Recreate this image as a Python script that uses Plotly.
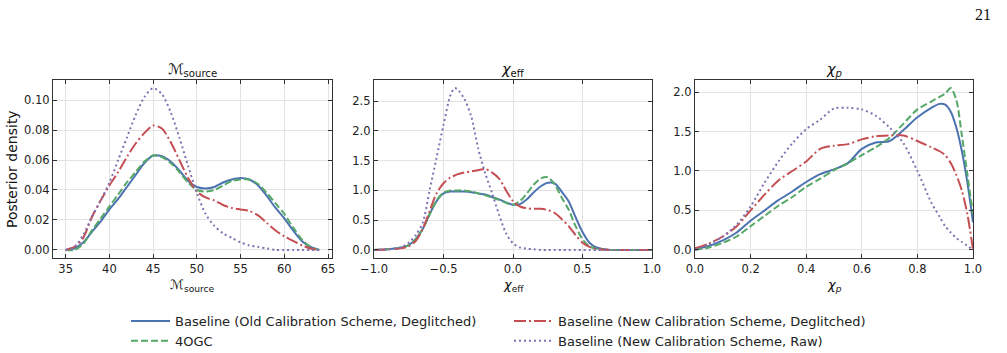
import plotly.graph_objects as go

# ---------------- data ----------------
mc_x = [35, 36, 37, 38, 39, 40, 41, 42, 43, 44, 45, 46, 47, 48, 49, 50, 51, 52, 53, 54,
        55, 56, 57, 58, 59, 60, 61, 62, 63, 64]
mc_old = [0.0, 0.001, 0.005, 0.012, 0.019, 0.027, 0.034, 0.042, 0.050, 0.058, 0.063, 0.0625,
          0.059, 0.053, 0.046, 0.042, 0.041, 0.042, 0.045, 0.047, 0.048, 0.047, 0.043, 0.036,
          0.028, 0.021, 0.013, 0.006, 0.002, 0.0]
mc_4ogc = [0.0, 0.0, 0.004, 0.013, 0.021, 0.029, 0.037, 0.045, 0.052, 0.059, 0.063, 0.062,
           0.058, 0.052, 0.045, 0.040, 0.039, 0.040, 0.043, 0.046, 0.047, 0.047, 0.044, 0.038,
           0.031, 0.024, 0.015, 0.007, 0.002, 0.0]
mc_new = [0.0, 0.002, 0.008, 0.022, 0.033, 0.043, 0.052, 0.062, 0.071, 0.078, 0.083, 0.081,
          0.072, 0.060, 0.048, 0.039, 0.035, 0.033, 0.030, 0.028, 0.027, 0.026, 0.023, 0.018,
          0.013, 0.009, 0.006, 0.003, 0.001, 0.0]
mc_raw = [0.0, 0.002, 0.010, 0.022, 0.033, 0.045, 0.060, 0.075, 0.090, 0.102, 0.108, 0.104,
          0.092, 0.075, 0.056, 0.038, 0.024, 0.016, 0.011, 0.008, 0.005, 0.003, 0.002, 0.001,
          0.0, 0.0, 0.0, 0.0, 0.0, 0.0]

ce_x = [-1.0, -0.9, -0.8, -0.75, -0.7, -0.65, -0.6, -0.55, -0.5, -0.45, -0.42, -0.4, -0.35,
        -0.3, -0.25, -0.2, -0.15, -0.1, -0.05, 0.0, 0.05, 0.1, 0.15, 0.2, 0.25, 0.3, 0.35,
        0.4, 0.45, 0.5, 0.55, 0.6, 0.65, 0.7, 0.8, 0.9, 1.0]
ce_old = [0.0, 0.01, 0.04, 0.08, 0.18, 0.35, 0.60, 0.82, 0.95, 0.98, 0.98, 0.98, 0.98,
          0.97, 0.95, 0.93, 0.89, 0.85, 0.80, 0.76, 0.77, 0.85, 0.97, 1.07, 1.13, 1.12, 0.98,
          0.82, 0.55, 0.30, 0.12, 0.04, 0.01, 0.0, 0.0, 0.0, 0.0]
ce_4ogc = [0.0, 0.01, 0.04, 0.08, 0.18, 0.35, 0.60, 0.83, 0.96, 1.0, 1.0, 1.0, 1.0,
           0.98, 0.95, 0.92, 0.88, 0.84, 0.79, 0.76, 0.82, 0.95, 1.10, 1.20, 1.22, 1.10, 0.88,
           0.68, 0.40, 0.18, 0.06, 0.02, 0.005, 0.0, 0.0, 0.0, 0.0]
ce_new = [0.0, 0.01, 0.03, 0.06, 0.15, 0.35, 0.65, 0.95, 1.12, 1.22, 1.25, 1.27, 1.30,
          1.32, 1.34, 1.36, 1.30, 1.20, 1.00, 0.82, 0.73, 0.70, 0.69, 0.69, 0.67, 0.62, 0.52,
          0.40, 0.25, 0.12, 0.05, 0.015, 0.005, 0.0, 0.0, 0.0, 0.0]
ce_raw = [0.0, 0.01, 0.05, 0.12, 0.25, 0.45, 1.00, 1.55, 2.10, 2.60, 2.72, 2.70, 2.54,
          2.24, 1.70, 1.29, 0.95, 0.59, 0.28, 0.11, 0.04, 0.02, 0.01, 0.0, 0.0, 0.0, 0.0,
          0.0, 0.0, 0.0, 0.0, 0.0, 0.0, 0.0, 0.0, 0.0, 0.0]

cp_x = [0.0, 0.05, 0.1, 0.15, 0.2, 0.25, 0.3, 0.35, 0.4, 0.45, 0.5, 0.55, 0.6, 0.65, 0.7,
        0.75, 0.8, 0.85, 0.88, 0.9, 0.92, 0.94, 0.96, 0.98, 1.0]
cp_old = [0.01, 0.05, 0.12, 0.22, 0.37, 0.50, 0.63, 0.74, 0.86, 0.96, 1.02, 1.10, 1.28,
          1.36, 1.38, 1.52, 1.68, 1.80, 1.85, 1.84, 1.75, 1.55, 1.25, 0.85, 0.35]
cp_4ogc = [0.0, 0.03, 0.09, 0.17, 0.30, 0.43, 0.56, 0.67, 0.80, 0.90, 1.01, 1.10, 1.20,
           1.30, 1.42, 1.60, 1.78, 1.88, 1.94, 1.98, 2.05, 1.90, 1.45, 0.95, 0.45]
cp_new = [0.02, 0.08, 0.17, 0.30, 0.50, 0.70, 0.88, 1.00, 1.12, 1.28, 1.32, 1.34, 1.40,
          1.44, 1.45, 1.45, 1.38, 1.30, 1.25, 1.20, 1.10, 0.95, 0.75, 0.45, 0.0]
cp_raw = [0.0, 0.07, 0.17, 0.32, 0.55, 0.85, 1.12, 1.35, 1.53, 1.65, 1.79, 1.80, 1.78,
          1.70, 1.55, 1.35, 1.00, 0.60, 0.42, 0.30, 0.22, 0.15, 0.10, 0.05, 0.0]

series_names = ["Baseline (Old Calibration Scheme, Deglitched)", "4OGC",
                "Baseline (New Calibration Scheme, Deglitched)",
                "Baseline (New Calibration Scheme, Raw)"]
panel_titles = ["ℳ<sub>source</sub>", "<i>χ</i><sub>eff</sub>", "<i>χ</i><sub><i>p</i></sub>"]

# ---------------- styling ----------------
W, H = 1007, 353
colors = ["#4C72B0", "#55A868", "#C44E52", "#8172B3"]
dashes = ["solid", "7px,3px", "12px,3px,2px,3px", "2px,3px"]
ranks = [1, 3, 2, 4]
FONT = "DejaVu Sans"

panels = [
    (mc_x, [mc_old, mc_4ogc, mc_new, mc_raw]),
    (ce_x, [ce_old, ce_4ogc, ce_new, ce_raw]),
    (cp_x, [cp_old, cp_4ogc, cp_new, cp_raw]),
]

xdom_px = [(53, 332), (374, 652), (695, 973)]
ydom_px = (80, 258)
xranges = [[33.55, 65.45], [-1, 1], [0, 1]]
yranges = [[-0.0054, 0.1134], [-0.136, 2.856], [-0.1025, 2.1525]]
xticks = [[35, 40, 45, 50, 55, 60, 65], [-1, -0.5, 0, 0.5, 1], [0, 0.2, 0.4, 0.6, 0.8, 1.0]]
yticks = [[0, 0.02, 0.04, 0.06, 0.08, 0.10], [0, 0.5, 1, 1.5, 2, 2.5], [0, 0.5, 1, 1.5, 2]]
xfmt = [".0f", ".1f", ".1f"]
yfmt = [".2f", ".1f", ".1f"]

fig = go.Figure()
for p, (xs, ys_list) in enumerate(panels):
    ax = "" if p == 0 else str(p + 1)
    for s, ys in enumerate(ys_list):
        fig.add_trace(go.Scatter(
            x=xs, y=ys, mode="lines", name=series_names[s],
            line=dict(color=colors[s], width=2, dash=dashes[s], shape="spline", smoothing=0.8),
            showlegend=(p == 0), legendrank=ranks[s],
            xaxis="x" + ax, yaxis="y" + ax,
        ))

layout = dict(
    width=W, height=H,
    margin=dict(l=0, r=0, t=0, b=0, pad=0, autoexpand=False),
    paper_bgcolor="white", plot_bgcolor="white",
    font=dict(family=FONT, size=11, color="#222222"),
    showlegend=True,
    legend=dict(
        orientation="h", x=126 / W, y=1 - 306 / H, xanchor="left", yanchor="top",
        entrywidth=329, entrywidthmode="pixels", itemwidth=39,
        font=dict(family=FONT, size=13, color="#222222"),
        bgcolor="rgba(0,0,0,0)", traceorder="normal",
    ),
)

for p in range(3):
    ax = "" if p == 0 else str(p + 1)
    x0, x1 = xdom_px[p]
    common = dict(
        showline=True, linecolor="#333333", linewidth=1.2, mirror="ticks",
        ticks="inside", ticklen=4, tickwidth=1, tickcolor="#333333",
        showgrid=True, gridcolor="#e3e3e3", gridwidth=1, zeroline=False, automargin=False,
        tickfont=dict(family=FONT, size=11.5, color="#222222"),
    )
    layout["xaxis" + ax] = dict(
        domain=[x0 / W, x1 / W], range=xranges[p], tickvals=xticks[p], tickformat=xfmt[p],
        anchor="y" + ax, **common)
    layout["yaxis" + ax] = dict(
        domain=[1 - ydom_px[1] / H, 1 - ydom_px[0] / H], range=yranges[p],
        tickvals=yticks[p], tickformat=yfmt[p], anchor="x" + ax, **common)

fig.update_layout(**layout)

annotations = []
for p in range(3):
    x0, x1 = xdom_px[p]
    cx = (x0 + x1) / 2 / W
    annotations.append(dict(text=panel_titles[p], x=cx, y=1 - 70 / H, xref="paper", yref="paper",
                            showarrow=False, xanchor="center", yanchor="middle",
                            font=dict(family=FONT, size=14.5, color="#111111")))
    annotations.append(dict(text=panel_titles[p], x=cx, y=1 - 285 / H, xref="paper", yref="paper",
                            showarrow=False, xanchor="center", yanchor="middle",
                            font=dict(family=FONT, size=13, color="#111111")))
annotations.append(dict(text="Posterior density", x=12 / W, y=1 - 169 / H, xref="paper",
                        yref="paper", showarrow=False, textangle=-90, xanchor="center",
                        yanchor="middle", font=dict(family=FONT, size=14, color="#111111")))
annotations.append(dict(text="21", x=983 / W, y=1 - 15 / H, xref="paper", yref="paper",
                        showarrow=False, xanchor="center", yanchor="middle",
                        font=dict(family="Liberation Serif", size=16, color="#111111")))
fig.update_layout(annotations=annotations)

fig.write_html("out.html")
